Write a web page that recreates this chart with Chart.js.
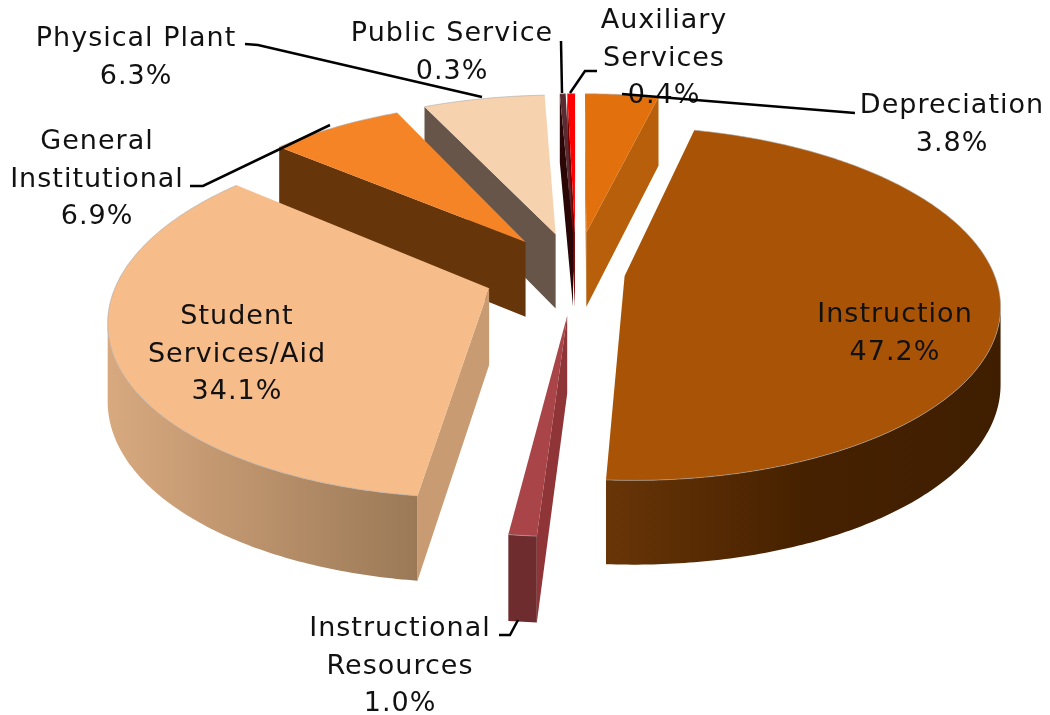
<!DOCTYPE html>
<html>
<head>
<meta charset="utf-8">
<title>Expenses pie</title>
<script src="https://cdn.jsdelivr.net/npm/chart.js@4/dist/chart.umd.min.js"></script>
<style>
  html, body { margin: 0; padding: 0; background: #fff; }
  canvas { display: block; }
</style>
</head>
<body>
<canvas id="pie_chart" width="1050" height="715"></canvas>
<script>
// values, clockwise from the top of the pie
const categories = ["Depreciation", "Instruction", "Instructional Resources", "Student Services/Aid",
                    "General Institutional", "Physical Plant", "Public Service", "Auxiliary Services"];
const shares = [3.8, 47.2, 1.0, 34.1, 6.9, 6.3, 0.3, 0.4];

// styles
const topColors = ["#E2700C", "#A85305", "#A94548", "#F6BC8A", "#F58427", "#F7D2AE", "#5A2B30", "#FF0000"];
const startWallColors = ["#B05A08", "#683507", "#8F3538", "#C99B73", "#663509", "#665548", "#2A0606", "#7A0000"];
const endWallColors = ["#B75F0B", "#683507", "#8F3538", "#C99B73", "#663509", "#665548", "#2A0606", "#7A0000"];
const outerWallColors = [
  ["#8A4506", "#8A4506"], ["#683507", "#462100", "#3F1E00"], ["#6F2C2E", "#6F2C2E"], ["#D8A97F", "#9B7957"],
  ["#663509", "#663509"], ["#665548", "#665548"], ["#2A0606", "#2A0606"], ["#7A0000", "#7A0000"]
];
const explode = [90, 49, 90, 92, 85, 88, 90, 90];

// text placed around the pie: lines of text, x of centre, y of first line
const labelLines = [["Depreciation"], ["Instruction"], ["Instructional", "Resources"], ["Student", "Services/Aid"],
                    ["General", "Institutional"], ["Physical Plant"], ["Public Service"], ["Auxiliary", "Services"]];
const labelX = [952, 895, 400, 237, 97, 136, 452, 664];
const labelY = [106, 315, 629, 317, 142, 39, 34, 21];
const lineGap = 37.5;
const leaders = [
  [[622, 94], [843, 112], [855, 113]],
  [[499, 635], [510, 635], [518, 620]],
  [[190, 186], [203, 186], [330, 125]],
  [[245, 44], [258, 45], [482, 97]],
  [[561, 41], [562, 93]],
  [[597, 71], [585, 71], [570, 93]]
];

// view of the pie
const pieRadius = 369;
const shiftX = 51;
const shiftY = -85;
const squash = 0.465;
const persp = 0.155;
const depth = 76;

function project(arc, px, py, z) {
  const w = 1 / (1 - persp * py / pieRadius);
  return [arc.x + shiftX + px * w, arc.y + shiftY + py * squash * w + z * Math.pow(w, 0.6)];
}

function facePath(ctx, pts) {
  ctx.beginPath();
  pts.forEach((p, i) => i ? ctx.lineTo(p[0], p[1]) : ctx.moveTo(p[0], p[1]));
  ctx.closePath();
}

function faceArea(pts) {
  let sum = 0;
  for (let i = 0; i < pts.length; i++) {
    const a = pts[i], b = pts[(i + 1) % pts.length];
    sum += a[0] * b[1] - b[0] * a[1];
  }
  return sum;
}

function fillFace(ctx, pts, color) {
  if (faceArea(pts) >= 0) return;
  facePath(ctx, pts);
  ctx.fillStyle = color;
  ctx.fill();
}

function drawSlice(ctx, arc, i) {
  const off = arc.options.offset;
  const mid = (arc.startAngle + arc.endAngle) / 2;
  const ax = Math.cos(mid) * off;
  const ay = Math.sin(mid) * off;
  const steps = Math.max(2, Math.ceil((arc.endAngle - arc.startAngle) / 0.012));
  const rimX = [], rimY = [];
  for (let s = 0; s <= steps; s++) {
    const a = arc.startAngle + (arc.endAngle - arc.startAngle) * s / steps;
    rimX.push(ax + Math.cos(a) * arc.outerRadius);
    rimY.push(ay + Math.sin(a) * arc.outerRadius);
  }
  const topPt = (x, y) => project(arc, x, y, 0);
  const botPt = (x, y) => project(arc, x, y, depth);

  // radial walls
  fillFace(ctx, [topPt(ax, ay), topPt(rimX[0], rimY[0]), botPt(rimX[0], rimY[0]), botPt(ax, ay)], startWallColors[i]);
  fillFace(ctx, [topPt(rimX[steps], rimY[steps]), topPt(ax, ay), botPt(ax, ay), botPt(rimX[steps], rimY[steps])], endWallColors[i]);

  // outer wall: the part of the rim that faces the viewer, as one path, shaded across its width
  const upper = [], lower = [];
  for (let s = 0; s < steps; s++) {
    const q = [topPt(rimX[s], rimY[s]), topPt(rimX[s + 1], rimY[s + 1]), botPt(rimX[s + 1], rimY[s + 1]), botPt(rimX[s], rimY[s])];
    if (faceArea(q) < 0) {
      if (!upper.length) { upper.push(q[0]); lower.push(q[3]); }
      upper.push(q[1]);
      lower.push(q[2]);
    }
  }
  if (upper.length) {
    const xs = upper.concat(lower).map(p => p[0]);
    const grad = ctx.createLinearGradient(Math.min(...xs), 0, Math.max(...xs), 0);
    outerWallColors[i].forEach((c, n, all) => grad.addColorStop(n / (all.length - 1), c));
    facePath(ctx, upper.concat(lower.reverse()));
    ctx.fillStyle = grad;
    ctx.fill();
  }

  // top face
  const top = [topPt(ax, ay)];
  for (let s = 0; s <= steps; s++) top.push(topPt(rimX[s], rimY[s]));
  facePath(ctx, top);
  ctx.fillStyle = arc.options.backgroundColor;
  ctx.fill();

  ctx.beginPath();
  top.slice(1).forEach((p, n) => n ? ctx.lineTo(p[0], p[1]) : ctx.moveTo(p[0], p[1]));
  ctx.strokeStyle = "rgba(170,170,170,0.6)";
  ctx.lineWidth = 1;
  ctx.stroke();
}

function drawLabels(ctx) {
  ctx.font = "27px 'DejaVu Sans'";
  ctx.letterSpacing = "1px";
  ctx.textAlign = "center";
  ctx.textBaseline = "middle";
  ctx.fillStyle = "#111";
  categories.forEach((name, i) => {
    const lines = labelLines[i].concat(shares[i].toFixed(1) + "%");
    lines.forEach((t, n) => ctx.fillText(t, labelX[i], labelY[i] + n * lineGap));
  });
  ctx.strokeStyle = "#000";
  ctx.lineWidth = 2.5;
  leaders.forEach(line => {
    ctx.beginPath();
    line.forEach((p, n) => n ? ctx.lineTo(p[0], p[1]) : ctx.moveTo(p[0], p[1]));
    ctx.stroke();
  });
}

function depthOf(arc) {
  return Math.sin((arc.startAngle + arc.endAngle) / 2) * arc.options.offset;
}

const pie3d = {
  id: "pie3d",
  beforeDatasetDraw(chart, args) {
    const ctx = chart.ctx;
    const arcs = args.meta.data.map((arc, i) => ({ arc, i }));
    // back slices first
    arcs.sort((a, b) => depthOf(a.arc) - depthOf(b.arc));
    arcs.forEach(item => drawSlice(ctx, item.arc, item.i));
    return false;
  },
  afterDraw(chart) {
    drawLabels(chart.ctx);
  }
};

new Chart(document.getElementById("pie_chart").getContext("2d"), {
  type: "pie",
  data: {
    labels: categories,
    datasets: [{
      data: shares,
      backgroundColor: topColors,
      borderWidth: 0,
      offset: explode
    }]
  },
  options: {
    responsive: false,
    animation: false,
    radius: pieRadius,
    plugins: { legend: { display: false }, tooltip: { enabled: false } }
  },
  plugins: [pie3d]
});
</script>
</body>
</html>
